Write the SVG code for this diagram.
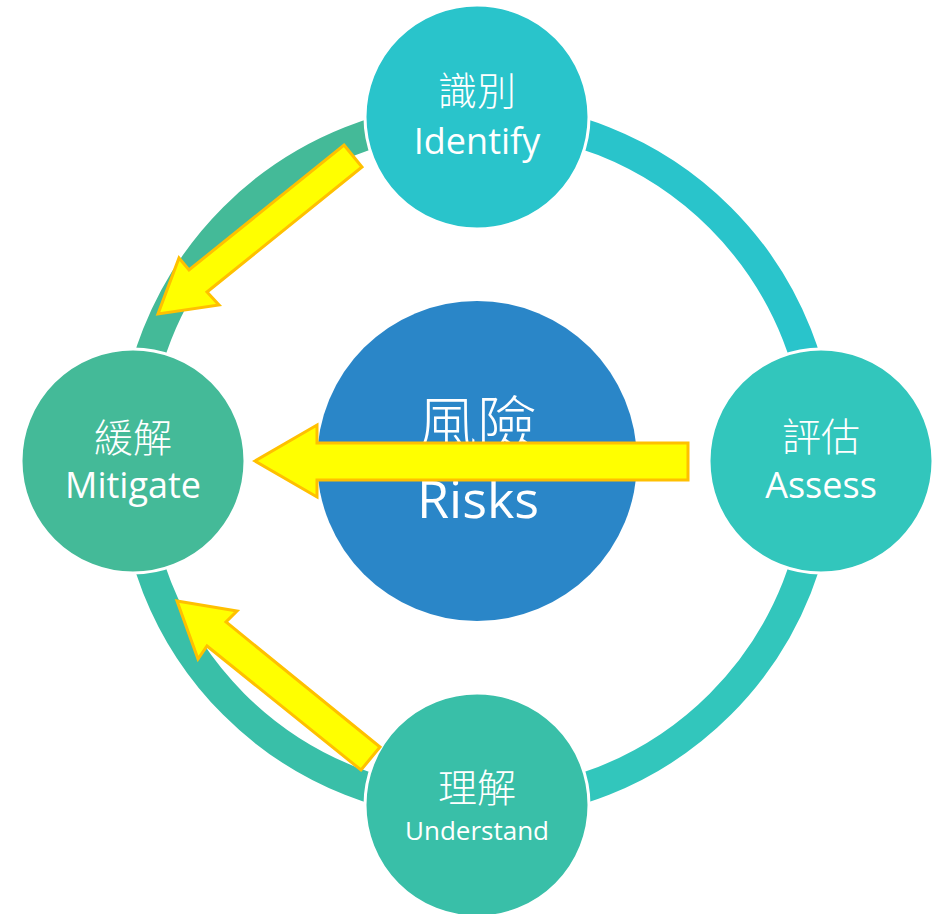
<svg xmlns="http://www.w3.org/2000/svg" width="933" height="914" viewBox="0 0 933 914">
  <style>
    .arc { fill: none; stroke-width: 30; }
    .node { stroke: #ffffff; stroke-width: 3; }
    .cjk { font-family: "Noto Sans CJK TC", "Noto Sans CJK SC", sans-serif; font-weight: 300; fill: #ffffff; text-anchor: middle; }
    .lat { font-family: "Open Sans", "Liberation Sans", sans-serif; fill: #ffffff; text-anchor: middle; }
    .arrow { fill: #ffff00; stroke: #ffc000; stroke-width: 3; stroke-linejoin: miter; }
  </style>
  <rect width="933" height="914" fill="#ffffff"/>

  <!-- cycle ring, one quarter per stage -->
  <g id="connectors">
    <path class="arc" stroke="#29c4cb" d="M477,117 A344,344 0 0 1 821,461"/>
    <path class="arc" stroke="#32c6bc" d="M821,461 A344,344 0 0 1 477,805"/>
    <path class="arc" stroke="#39bfa8" d="M477,805 A344,344 0 0 1 133,461"/>
    <path class="arc" stroke="#44ba98" d="M133,461 A344,344 0 0 1 477,117"/>
  </g>

  <g id="risks">
    <circle cx="477" cy="461" r="160" fill="#2a86c8"/>
    <text class="cjk" x="477" y="446" font-size="60">風險</text>
    <text class="lat" x="478" y="518" font-size="52">Risks</text>
  </g>

  <g id="identify">
    <circle class="node" cx="477" cy="117" r="112" fill="#29c4cb"/>
    <text class="cjk" x="477" y="105" font-size="39">識別</text>
    <text class="lat" x="477" y="154" font-size="36">Identify</text>
  </g>

  <g id="assess">
    <circle class="node" cx="821" cy="461" r="112" fill="#32c6bc"/>
    <text class="cjk" x="821" y="451" font-size="39">評估</text>
    <text class="lat" x="821" y="498" font-size="36">Assess</text>
  </g>

  <g id="understand">
    <circle class="node" cx="477" cy="805" r="112" fill="#39bfa8"/>
    <text class="cjk" x="477" y="802" font-size="39">理解</text>
    <text class="lat" x="477" y="840" font-size="26">Understand</text>
  </g>

  <g id="mitigate">
    <circle class="node" cx="133" cy="461" r="112" fill="#44ba98"/>
    <text class="cjk" x="133" y="452" font-size="39">緩解</text>
    <text class="lat" x="133" y="498" font-size="36">Mitigate</text>
  </g>

  <!-- block arrows pointing into Mitigate -->
  <g id="arrows">
    <polygon class="arrow" points="344,145 362,167 207,292 219,305 158,314 179,258 189,270"/>
    <polygon class="arrow" points="177,601 237,611 226,622 380,747 361,770 207,646 198,659"/>
    <polygon class="arrow" points="688,443 317,443 317,425 255,461 317,497 317,480 688,480"/>
  </g>
</svg>
